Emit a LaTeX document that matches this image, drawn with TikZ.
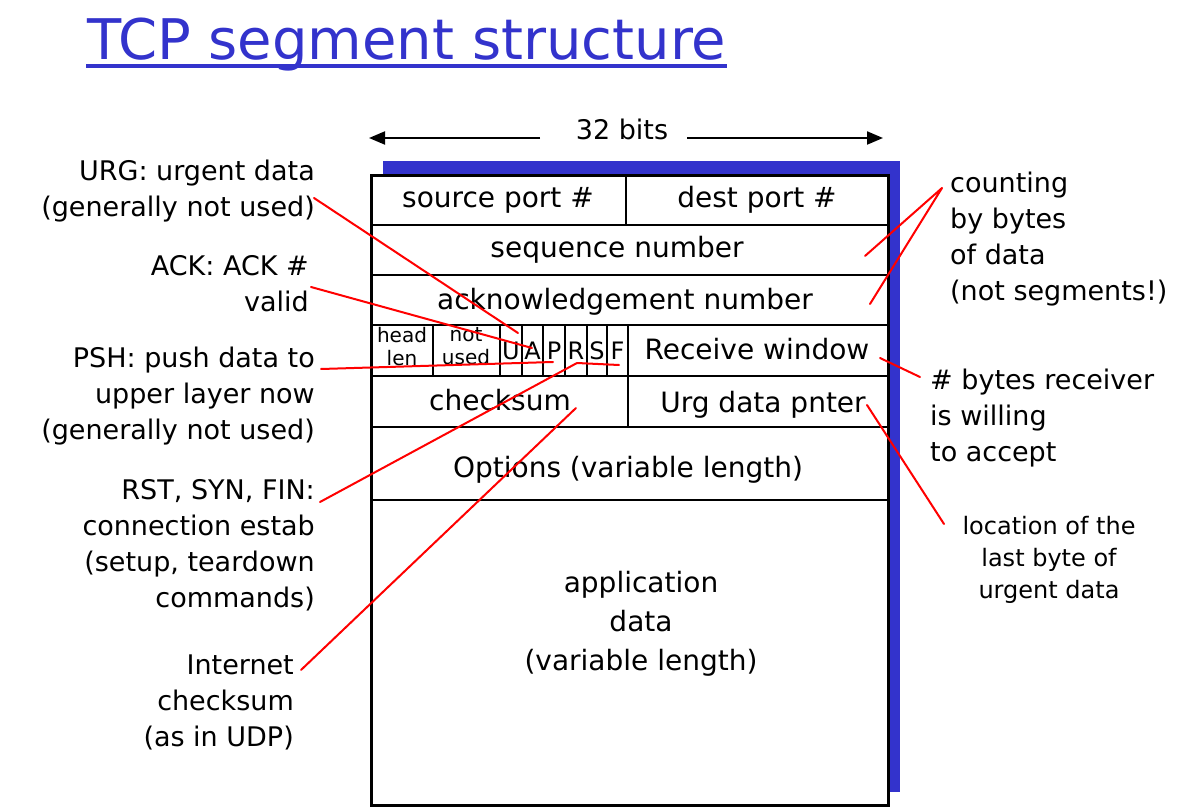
\documentclass[tikz,border=0pt]{standalone}
\usepackage{fontspec}
\setmainfont{DejaVu Sans}
\newfontfamily\flagfamily{DejaVu Sans}
\usetikzlibrary{arrows.meta,calc}
\definecolor{slideblue}{RGB}{51,51,204}
\definecolor{callred}{RGB}{255,0,0}
\newcommand\fbig{\fontsize{27}{36}\selectfont}
\newcommand\ffield{\fontsize{28}{36}\selectfont}
\newcommand\fapp{\fontsize{28}{39}\selectfont}
\newcommand\fsmall{\fontsize{24}{32}\selectfont}
\newcommand\ftiny{\flagfamily\fontsize{20}{23}\selectfont}
\newcommand\fflag{\flagfamily\fontsize{24}{28}\selectfont}
\newcommand\ftitle{\fontsize{56}{64}\selectfont}
\begin{document}
\begin{tikzpicture}[x=1pt,y=-1pt,
  lbl/.style={inner sep=0pt, font=\fbig, execute at begin node=\strut},
  lleft/.style={lbl, align=right, anchor=north east},
  lright/.style={lbl, align=left, anchor=north west},
  field/.style={inner sep=0pt, font=\ffield, anchor=base},
  twoline/.style={inner sep=0pt, font=\ftiny, align=center, anchor=north, execute at begin node=\strut},
  flagcell/.style={inner sep=0pt, font=\fflag, anchor=base},
  callout/.style={draw=callred, line width=2pt, line cap=round, line join=round},
  gridline/.style={draw=black, line width=2.2pt},
  widtharrow/.style={draw=black, line width=2pt, -{Triangle[length=16pt,width=13pt]}},
]
\useasboundingbox (0,0) rectangle (1200,810);
\fill[white] (0,0) rectangle (1200,810);

% title
\node[font=\ftitle, text=slideblue, anchor=base west, inner sep=0pt] (title) at (87,60) {TCP segment structure};
\draw[slideblue, line width=4pt] ($(title.base west)+(-1,6)$) -- ($(title.base east)+(0,6)$);

% 32 bits
\node[field, font=\fbig] (bits) at (622,140) {32 bits};
\coordinate (bitsL) at (540,138);
\coordinate (bitsLtip) at (369,138);
\coordinate (bitsR) at (687,138);
\coordinate (bitsRtip) at (883,138);
\draw[widtharrow] (bitsL) -- (bitsLtip);
\draw[widtharrow] (bitsR) -- (bitsRtip);

% segment box
\fill[slideblue] (383,161) rectangle (900,792);
\filldraw[fill=white, draw=black, line width=3pt] (371,176) rectangle (888,805);
\foreach \yy in {225,275,325,376,427,500} \draw[gridline] (371,\yy) -- (888,\yy);
\draw[gridline] (626,176) -- (626,225);
\draw[gridline] (628,376) -- (628,427);
\foreach \xx in {433,500,522,543,565,587,607,628} \draw[gridline] (\xx,325) -- (\xx,376);

% fields
\node[field] (srcport) at (498,208) {source port \#};
\node[field] (dstport) at (757,208) {dest port \#};
\node[field] (seqno) at (617,258) {sequence number};
\node[field] (ackno) at (625,310) {acknowledgement number};
\node[twoline] (hlen) at (402,327) {head\\len};
\node[twoline] (notused) at (466,327) {not\\used};
\foreach \xx/\ll in {511/U,532.5/A,554/P,576/R,597/S,617.5/F}
  \node[flagcell] (flag\ll) at (\xx,360) {\ll};
\node[field] (rwnd) at (757,360) {Receive window};
\node[field] (cksum) at (500,410) {checksum};
\node[field] (urgptr) at (763,412) {Urg data pnter};
\node[field] (opts) at (628,477) {Options (variable length)};
\node[inner sep=0pt, font=\fapp, align=center, anchor=north, execute at begin node=\strut] (appdata) at (641,570.7) {application\\data\\(variable length)};

% left labels
\node[lleft] (urg) at (315,160) {URG: urgent data\\(generally not used)};
\node[lleft] (ack) at (309,254.8) {ACK: ACK \#\\valid};
\node[lleft] (psh) at (315,346.8) {PSH: push data to\\upper layer now\\(generally not used)};
\node[lleft] (rst) at (315,478.8) {RST, SYN, FIN:\\connection estab\\(setup, teardown\\commands)};
\node[lleft] (inet) at (294,654.8) {Internet\\checksum\\(as in UDP)};

% right labels
\node[lright] (counting) at (950,171.8) {counting\\by bytes\\of data\\(not segments!)};
\node[lright] (willing) at (930,368.8) {\# bytes receiver\\is willing\\to accept};
\node[inner sep=0pt, font=\fsmall, align=center, anchor=north, execute at begin node=\strut] (lastbyte) at (1049,516) {location of the\\last byte of\\urgent data};

% callout end points
\coordinate (urgA) at (314,198);   \coordinate (urgB) at (518,333);
\coordinate (ackA) at (311,287);   \coordinate (ackB) at (532,348);
\coordinate (pshA) at (321,369);   \coordinate (pshB) at (553,362);
\coordinate (rstA) at (320,502);   \coordinate (rstB) at (577,363);   \coordinate (rstC) at (619,365);
\coordinate (inetA) at (301,670);  \coordinate (inetB) at (576,408);
\coordinate (cntA) at (942,188);   \coordinate (cntB) at (865,256);   \coordinate (cntC) at (870,304);
\coordinate (rwA) at (880,358);    \coordinate (rwB) at (920,377);
\coordinate (upA) at (867,405);    \coordinate (upB) at (944,524);

\draw[callout] (urgA) -- (urgB);
\draw[callout] (ackA) -- (ackB);
\draw[callout] (pshA) -- (pshB);
\draw[callout] (rstA) -- (rstB) -- (rstC);
\draw[callout] (inetA) -- (inetB);
\draw[callout] (cntB) -- (cntA) -- (cntC);
\draw[callout] (rwA) -- (rwB);
\draw[callout] (upA) -- (upB);
\end{tikzpicture}
\end{document}
